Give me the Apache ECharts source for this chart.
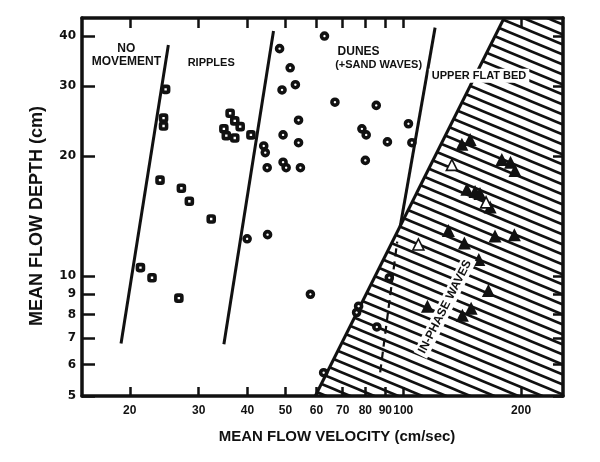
<!DOCTYPE html>
<html><head><meta charset="utf-8">
<script src="https://cdn.jsdelivr.net/npm/echarts@6/dist/echarts.min.js"></script>
<style>html,body{margin:0;padding:0;background:#fff}#c{width:600px;height:462px}</style>
</head><body><div id="c"></div>
<script>
// ---- data (velocity cm/s, depth cm) ----
const xTicks = [20, 30, 40, 50, 60, 70, 80, 90, 100, 200];
const yTicks = [5, 6, 7, 8, 9, 10, 20, 30, 40];
const xRange = [15.1, 256];
const yRange = [5, 44.4];

const ripplesSquares = [[24.7,29.4],[24.4,24.9],[24.4,23.8],[23.9,17.4],[27.1,16.6],[28.4,15.4],[32.3,13.9],
  [21.3,10.5],[22.8,9.9],[26.7,8.8],[36.1,25.6],[37.1,24.5],[38.3,23.7],[34.8,23.4],[35.3,22.5],[37.1,22.2],[40.8,22.6]];
const dunesCircles = [[62.9,40.0],[48.3,37.2],[51.4,33.3],[53.0,30.2],[49.0,29.3],[66.9,27.3],[85.3,26.8],[54.0,24.6],
  [49.3,22.6],[54.0,21.6],[44.0,21.2],[44.4,20.4],[44.9,18.7],[49.3,19.3],[50.2,18.7],[54.6,18.7],[78.4,23.4],[80.4,22.6],
  [91.1,21.7],[80.0,19.5],[103.1,24.1],[105.2,21.6],[39.9,12.4],[45.0,12.7],[57.9,9.0],[76.9,8.4],[76.0,8.1],[85.6,7.45],
  [92.1,9.9],[62.6,5.72]];
const waveTrianglesFilled = [[148.2,22.0],[141.2,21.4],[178.6,19.6],[188.0,19.3],[193.0,18.4],[145.4,16.5],[152.6,16.3],
  [157.1,16.1],[166.7,14.9],[130.4,13.0],[143.3,12.1],[171.6,12.6],[192.3,12.7],[156.0,11.0],[165.0,9.2],[115.3,8.4],
  [149.1,8.3],[141.6,7.97]];
const waveTrianglesOpen = [[133.1,19.0],[162.8,15.3],[109.3,12.0]];

const noMovementBoundary = [[19.0,6.77],[25.1,38.0]];
const rippleDuneBoundary = [[34.8,6.74],[46.6,41.2]];
const duneFlatBoundary = [[98.2,13.3],[120.6,42.0]];
const flatWaveDashed = [[87.3,5.73],[96.5,12.2]];
const hatchEdge = [[59.6,5],[181,44.4]];

const annotations = [
  {text:'NO\nMOVEMENT', at:[19.6,35.8], size:12},
  {text:'RIPPLES', at:[32.3,34.3], size:11},
  {text:'DUNES', at:[76.9,36.6], size:12},
  {text:'(+SAND WAVES)', at:[86.5,33.9], size:11},
  {text:'UPPER FLAT BED', at:[156.2,31.8], size:11, bg:true},
  {text:'IN-PHASE WAVES', at:[127.9,8.37], size:12, rotate:63, bg:true}
];

// ---- hatch pattern ----
const tile = document.createElement('canvas');
tile.width = 24; tile.height = 10;
const g = tile.getContext('2d');
g.fillStyle = '#fff'; g.fillRect(0,0,24,10);
g.strokeStyle = '#111'; g.lineWidth = 2.6;
for (const dy of [-10,0,10]) { g.beginPath(); g.moveTo(-24,-10+dy); g.lineTo(48,20+dy); g.stroke(); }

const ink = '#111';
const hatchPoly = [hatchEdge[0], hatchEdge[1], [xRange[1], yRange[1]], [xRange[1], yRange[0]]];

function lineSeries(data, dashed, w) {
  return {type:'line', data:data, showSymbol:false, symbol:'none', z:3, silent:true,
    lineStyle:{color:ink, width:w||3, opacity:1, type: dashed ? [8,5] : 'solid'}};
}
const axisFontX = {color:ink, fontFamily:'Liberation Sans', fontWeight:'bold', fontSize:12};
const axisFontY = {color:ink, fontFamily:'DejaVu Sans', fontWeight:'bold', fontSize:12};

const chart = echarts.init(document.getElementById('c'));
chart.setOption({
  animation:false,
  backgroundColor:'#fff',
  grid:{left:82, right:37, top:18, bottom:66},
  xAxis:[
    {type:'log', min:xRange[0], max:xRange[1], position:'bottom', z:10,
     axisLine:{lineStyle:{color:ink, width:3.5}},
     axisTick:{inside:true, length:9, customValues:xTicks, lineStyle:{color:ink, width:2.5}},
     axisLabel:Object.assign({customValues:xTicks, margin:9}, axisFontX),
     splitLine:{show:false}, minorTick:{show:false}, minorSplitLine:{show:false}},
    {type:'log', min:xRange[0], max:xRange[1], position:'top', z:10,
     axisLine:{lineStyle:{color:ink, width:3.5}},
     axisTick:{inside:true, length:10, customValues:xTicks, lineStyle:{color:ink, width:2.5}},
     axisLabel:{show:false}, splitLine:{show:false}}
  ],
  yAxis:[
    {type:'log', min:yRange[0], max:yRange[1], position:'left', z:10,
     axisLine:{lineStyle:{color:ink, width:3.5}},
     axisTick:{inside:true, length:13, customValues:yTicks, lineStyle:{color:ink, width:2.5}},
     axisLabel:Object.assign({customValues:yTicks, margin:6}, axisFontY),
     splitLine:{show:false}, minorTick:{show:false}, minorSplitLine:{show:false}},
    {type:'log', min:yRange[0], max:yRange[1], position:'right', z:10,
     axisLine:{lineStyle:{color:ink, width:3.5}},
     axisTick:{inside:true, length:10, customValues:yTicks, lineStyle:{color:ink, width:2.5}},
     axisLabel:{show:false}, splitLine:{show:false}}
  ],
  series:[
    {type:'custom', z:1, silent:true, data:[hatchEdge[0]],
     renderItem:function(params, api){
       const pts = hatchPoly.map(p => api.coord(p));
       return {type:'polygon', shape:{points:pts}, style:{fill:{image:tile, repeat:'repeat'}, stroke:null}};
     }},
    lineSeries(hatchEdge, false, 3),
    lineSeries(noMovementBoundary, false, 3),
    lineSeries(rippleDuneBoundary, false, 3),
    lineSeries(duneFlatBoundary, false, 3),
    lineSeries(flatWaveDashed, true, 2.2),
    {type:'scatter', data:ripplesSquares, symbol:'roundRect', symbolSize:6, z:4,
     itemStyle:{color:'#fff', borderColor:ink, borderWidth:3.6, opacity:1}},
    {type:'scatter', data:dunesCircles, symbol:'circle', symbolSize:6, z:4,
     itemStyle:{color:'#fff', borderColor:ink, borderWidth:3.6, opacity:1}},
    {type:'scatter', data:waveTrianglesFilled, symbol:'triangle', symbolSize:13, z:4,
     itemStyle:{color:ink, opacity:1}},
    {type:'scatter', data:waveTrianglesOpen, symbol:'triangle', symbolSize:11, z:4,
     itemStyle:{color:'#fff', borderColor:ink, borderWidth:1.6, opacity:1}},
    {type:'scatter', z:6, silent:true, symbolSize:1, itemStyle:{color:'rgba(0,0,0,0)', opacity:1},
     data: annotations.map(a => ({name:a.text, value:a.at,
       label:{show:true, position:'inside', formatter:'{b}', color:ink, opacity:1, fontFamily:'Liberation Sans',
         fontWeight:'bold', fontSize:a.size, lineHeight:a.size+1, align:'center', verticalAlign:'middle',
         rotate:a.rotate||0, backgroundColor: a.bg ? '#fff' : 'transparent', padding: a.bg ? [1,3] : 0}}))}
  ],
  graphic:[
    {type:'text', x:337, y:437, style:{text:'MEAN FLOW VELOCITY (cm/sec)', fill:ink, align:'center', verticalAlign:'middle',
      font:'bold 15px "Liberation Sans"'}},
    {type:'text', x:37, y:216, rotation:Math.PI/2, style:{text:'MEAN FLOW DEPTH (cm)', fill:ink, align:'center', verticalAlign:'middle',
      font:'bold 18px "Liberation Sans"'}}
  ]
});
</script></body></html>
